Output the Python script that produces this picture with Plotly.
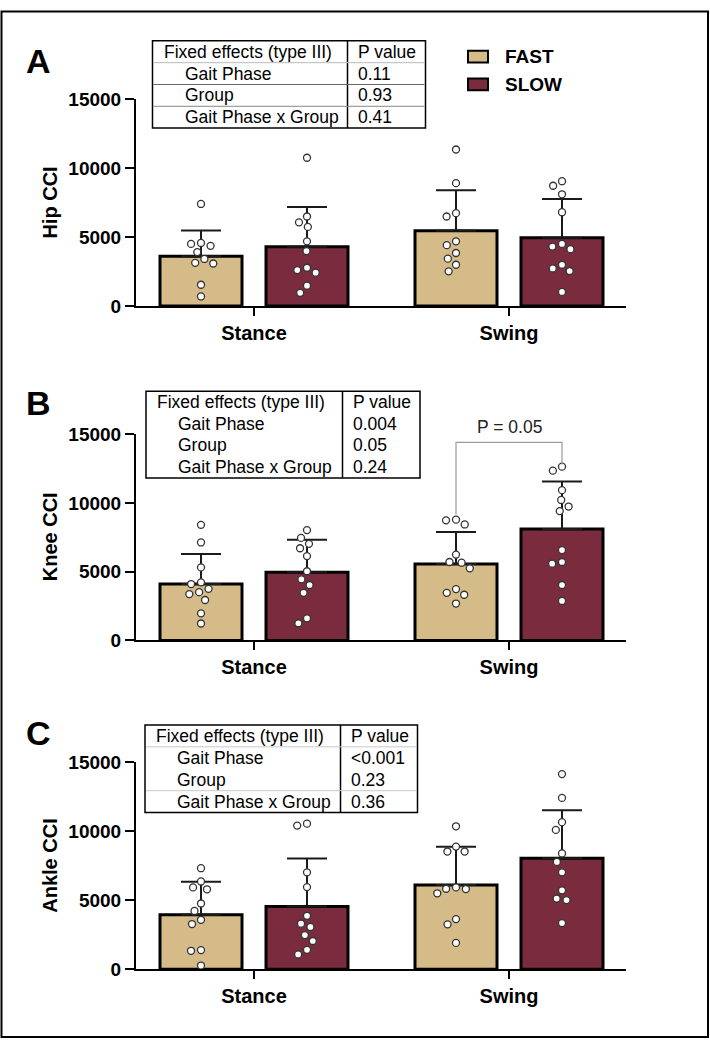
import math
import plotly.graph_objects as go

# ---------------- data ----------------
phases = ["Stance", "Swing"]
groups = ["FAST", "SLOW"]
panel_letters = ["A", "B", "C"]
y_titles = ["Hip CCI", "Knee CCI", "Ankle CCI"]
y_ticks = [0, 5000, 10000, 15000]

# bar means (Stance, Swing) and SD (upward error bars)
hip_fast_mean = [3600, 5450]
hip_slow_mean = [4300, 4950]
hip_fast_sd = [1880, 2940]
hip_slow_sd = [2880, 2800]

knee_fast_mean = [4100, 5550]
knee_slow_mean = [4950, 8100]
knee_fast_sd = [2190, 2330]
knee_slow_sd = [2360, 3460]

ankle_fast_mean = [3950, 6100]
ankle_slow_mean = [4550, 8050]
ankle_fast_sd = [2380, 2770]
ankle_slow_sd = [3480, 3470]

# individual subjects
hip_fast_stance = [7400, 4570, 4500, 4360, 3910, 3410, 3130, 3080, 1540, 690]
hip_slow_stance = [10750, 6490, 6065, 5735, 4690, 3980, 2770, 2605, 2415, 1470, 950]
hip_fast_swing = [11350, 8910, 6730, 6490, 4690, 4410, 3840, 3430, 2990, 2510]
hip_slow_swing = [9050, 8720, 8100, 6800, 4500, 4310, 4120, 2990, 2725, 2535, 1020]

knee_fast_stance = [8400, 7120, 5310, 4220, 4100, 3750, 3510, 3370, 2940, 1970, 1230]
knee_slow_stance = [8020, 7450, 7020, 6700, 6130, 5030, 4440, 4030, 3460, 1610, 1250]
knee_fast_swing = [8780, 8730, 8430, 6240, 5700, 5650, 5240, 3730, 3460, 3320, 2680]
knee_slow_swing = [12630, 12340, 10920, 10210, 9730, 9400, 6570, 5700, 5580, 4030, 2870]

ankle_fast_stance = [7320, 6360, 5930, 5790, 4760, 4220, 3580, 3270, 1380, 1330, 260]
ankle_slow_stance = [10550, 10410, 7020, 5950, 3870, 3300, 3060, 2470, 2040, 1400, 1070]
ankle_fast_swing = [10360, 8890, 8530, 8530, 5930, 5830, 5810, 5500, 3630, 3250, 1900]
ankle_slow_swing = [14150, 12420, 10660, 10100, 8390, 7780, 7020, 5720, 5120, 5010, 3340]

# statistics tables
table_header = ["Fixed effects (type III)", "P value"]
table_effects = ["Gait Phase", "Group", "Gait Phase x Group"]
hip_p = ["0.11", "0.93", "0.41"]
knee_p = ["0.004", "0.05", "0.24"]
ankle_p = ["<0.001", "0.23", "0.36"]

knee_swing_comparison = "P = 0.05"

# ---------------- styling / layout ----------------
W, H = 710, 1050
FONT = "Liberation Sans, Arial, Helvetica, sans-serif"
C_FAST = "#D4BB87"
C_SLOW = "#7A2C3E"

def px_x(x):
    return x / W

def px_y(y):
    return 1 - y / H

# y pixel of value 0 and 15000 for each panel
panel_px = [(302.0, 91.0), (643.3, 432.7), (978.7, 767.7)]
x_left_px, x_right_px = 136.0, 626.0
cat_px = [254.0, 509.0]
kx = cat_px[1] - cat_px[0]            # px per category unit
x_range = [-(cat_px[0] - x_left_px) / kx, 1 + (x_right_px - cat_px[1]) / kx]
bar_off = 53.0 / kx
bar_w = 82.0 / kx


def swarm(values, ky, d=10.0):
    """Deterministic beeswarm offsets (in category units)."""
    ys = [v * ky for v in values]
    order = sorted(range(len(values)), key=lambda i: -values[i])
    placed = []
    xs = [0.0] * len(values)
    for i in order:
        y = ys[i]
        cands = [0.0]
        for (px, py) in placed:
            dy = y - py
            if abs(dy) < d:
                dx = math.sqrt(d * d - dy * dy)
                cands += [px - dx, px + dx]
        cands.sort(key=lambda c: (round(abs(c), 6), c))
        for c in cands:
            if all((c - px) ** 2 + (y - py) ** 2 >= d * d - 1e-6 for px, py in placed):
                xs[i] = c
                placed.append((c, y))
                break
    return [x / kx for x in xs]


panels = [
    dict(fm=hip_fast_mean, sm=hip_slow_mean, fsd=hip_fast_sd, ssd=hip_slow_sd,
         pts=[[hip_fast_stance, hip_fast_swing], [hip_slow_stance, hip_slow_swing]], p=hip_p,
         table=dict(l=152.5, d=347.5, r=425.5, t=31.5, b=120.5,
                    lines=[(1, "#bbbbbb"), (2, "#666666"), (3, "#888888")])),
    dict(fm=knee_fast_mean, sm=knee_slow_mean, fsd=knee_fast_sd, ssd=knee_slow_sd,
         pts=[[knee_fast_stance, knee_fast_swing], [knee_slow_stance, knee_slow_swing]], p=knee_p,
         table=dict(l=146.0, d=342.5, r=420.0, t=389.0, b=477.5, lines=[])),
    dict(fm=ankle_fast_mean, sm=ankle_slow_mean, fsd=ankle_fast_sd, ssd=ankle_slow_sd,
         pts=[[ankle_fast_stance, ankle_fast_swing], [ankle_slow_stance, ankle_slow_swing]], p=ankle_p,
         table=dict(l=145.0, d=340.5, r=417.5, t=729.5, b=819.0,
                    lines=[(1, "#c8c8c8"), (3, "#c8c8c8")])),
]

fig = go.Figure()
shapes = []
annotations = []
layout = dict(
    width=W, height=H, margin=dict(l=0, r=0, t=0, b=0, pad=0),
    paper_bgcolor="white", plot_bgcolor="white", showlegend=False,
    barmode="overlay", font=dict(family=FONT, color="black"),
)

for k, pan in enumerate(panels):
    n = k + 1
    xa = "x" if n == 1 else f"x{n}"
    ya = "y" if n == 1 else f"y{n}"
    y0px, y15px = panel_px[k]
    ky = (y0px - y15px) / 15000.0

    for g, (means, sds, color) in enumerate([(pan["fm"], pan["fsd"], C_FAST),
                                               (pan["sm"], pan["ssd"], C_SLOW)]):
        sign = -1 if g == 0 else 1
        xs = [i + sign * bar_off for i in range(len(phases))]
        fig.add_trace(go.Bar(
            x=xs, y=means, width=[bar_w] * len(phases), name=groups[g],
            marker=dict(color=color, line=dict(color="black", width=3)),
            error_y=dict(type="data", symmetric=False, array=sds, arrayminus=[0] * len(sds),
                         color="#1a1a1a", thickness=2, width=20),
            xaxis=xa, yaxis=ya, hoverinfo="skip",
        ))
        for i in range(len(phases)):
            vals = pan["pts"][g][i]
            offs = swarm(vals, ky)
            fig.add_trace(go.Scatter(
                x=[xs[i] + o for o in offs], y=vals, mode="markers",
                marker=dict(size=7, color="white", line=dict(color="#333333", width=1.3)),
                xaxis=xa, yaxis=ya, cliponaxis=False, hoverinfo="skip",
            ))

    dom_y = [px_y(y0px), px_y(y15px)]
    layout["xaxis" if n == 1 else f"xaxis{n}"] = dict(
        domain=[px_x(x_left_px), px_x(x_right_px)], range=x_range, anchor=ya,
        tickmode="array", tickvals=list(range(len(phases))), ticktext=phases,
        ticks="outside", ticklen=8, tickwidth=2, tickcolor="black",
        showline=True, linewidth=2, linecolor="black", showgrid=False, zeroline=False,
        tickfont=dict(size=20, family=FONT, weight="bold", color="black"), fixedrange=True,
    )
    layout["yaxis" if n == 1 else f"yaxis{n}"] = dict(
        domain=dom_y, range=[0, 15000], anchor=xa,
        tickmode="array", tickvals=y_ticks, ticktext=[str(t) for t in y_ticks],
        ticks="outside", ticklen=9, tickwidth=2, tickcolor="black",
        showline=True, linewidth=2, linecolor="black", showgrid=False, zeroline=False,
        tickfont=dict(size=19, family=FONT, weight="bold", color="black"), fixedrange=True,
    )
    # y title
    annotations.append(dict(
        text=y_titles[k], xref="paper", yref="paper", x=px_x(50), y=(dom_y[0] + dom_y[1]) / 2,
        textangle=-90, showarrow=False, xanchor="center", yanchor="middle",
        font=dict(size=20, family=FONT, weight="bold", color="black"),
    ))
    # panel letter
    letter_y = [52.0, 401.0, 738.0][k]
    annotations.append(dict(
        text=panel_letters[k], xref="paper", yref="paper", x=px_x(38), y=px_y(letter_y),
        showarrow=False, xanchor="center", yanchor="middle",
        font=dict(size=34, family=FONT, weight="bold", color="black"),
    ))

    # statistics table
    t = pan["table"]
    rh = (t["b"] - t["t"]) / 4.0
    shapes.append(dict(type="rect", xref="paper", yref="paper",
                       x0=px_x(t["l"]), x1=px_x(t["r"]), y0=px_y(t["t"]), y1=px_y(t["b"]),
                       line=dict(color="black", width=1.5), fillcolor="white", layer="above"))
    shapes.append(dict(type="line", xref="paper", yref="paper",
                       x0=px_x(t["d"]), x1=px_x(t["d"]), y0=px_y(t["t"]), y1=px_y(t["b"]),
                       line=dict(color="black", width=1.5), layer="above"))
    for (row, col) in t["lines"]:
        yy = t["t"] + row * rh
        shapes.append(dict(type="line", xref="paper", yref="paper",
                           x0=px_x(t["l"] + 1), x1=px_x(t["r"] - 1), y0=px_y(yy), y1=px_y(yy),
                           line=dict(color=col, width=1), layer="above"))
    rows_left = [table_header[0]] + table_effects
    rows_right = [table_header[1]] + pan["p"]
    for r in range(4):
        yc = t["t"] + (r + 0.5) * rh
        annotations.append(dict(
            text=rows_left[r], xref="paper", yref="paper",
            x=px_x(t["l"] + (9 if r == 0 else 30)), y=px_y(yc),
            showarrow=False, xanchor="left", yanchor="middle",
            font=dict(size=17.5, family=FONT, color="black")))
        annotations.append(dict(
            text=rows_right[r].replace("<", "&lt;"), xref="paper", yref="paper",
            x=px_x(t["d"] + 8), y=px_y(yc),
            showarrow=False, xanchor="left", yanchor="middle",
            font=dict(size=17.5, family=FONT, color="black")))

# significance bracket in panel B (Swing: FAST vs SLOW)
bx0, bx1 = 1 - bar_off, 1 + bar_off
shapes.append(dict(type="path", xref="x2", yref="y2",
                   path=f"M {bx0} 9150 L {bx0} 14400 L {bx1} 14400 L {bx1} 12780",
                   line=dict(color="#9a9a9a", width=1.2)))
annotations.append(dict(text=knee_swing_comparison, xref="paper", yref="paper",
                        x=px_x(cat_px[1]), y=px_y(426.0),
                        showarrow=False, xanchor="center", yanchor="middle",
                        font=dict(size=17.5, family=FONT, color="#222222")))

# legend
for g, (color, yc) in enumerate([(C_FAST, 47.5), (C_SLOW, 76.0)]):
    shapes.append(dict(type="rect", xref="paper", yref="paper",
                       x0=px_x(468), x1=px_x(488), y0=px_y(yc - 6), y1=px_y(yc + 6),
                       fillcolor=color, line=dict(color="black", width=2)))
    annotations.append(dict(text=groups[g], xref="paper", yref="paper", x=px_x(503), y=px_y(yc),
                            showarrow=False, xanchor="left", yanchor="middle",
                            font=dict(size=19, family=FONT, weight="bold", color="black")))

# outer frame
shapes.append(dict(type="rect", xref="paper", yref="paper",
                   x0=px_x(1.5), x1=px_x(708.0), y0=px_y(1.5), y1=px_y(1048.0),
                   line=dict(color="black", width=2)))

layout["shapes"] = shapes
layout["annotations"] = annotations
fig.update_layout(**layout)
fig.write_html("out.html",
               post_script="document.body.style.margin='0';document.body.style.padding='0';")
